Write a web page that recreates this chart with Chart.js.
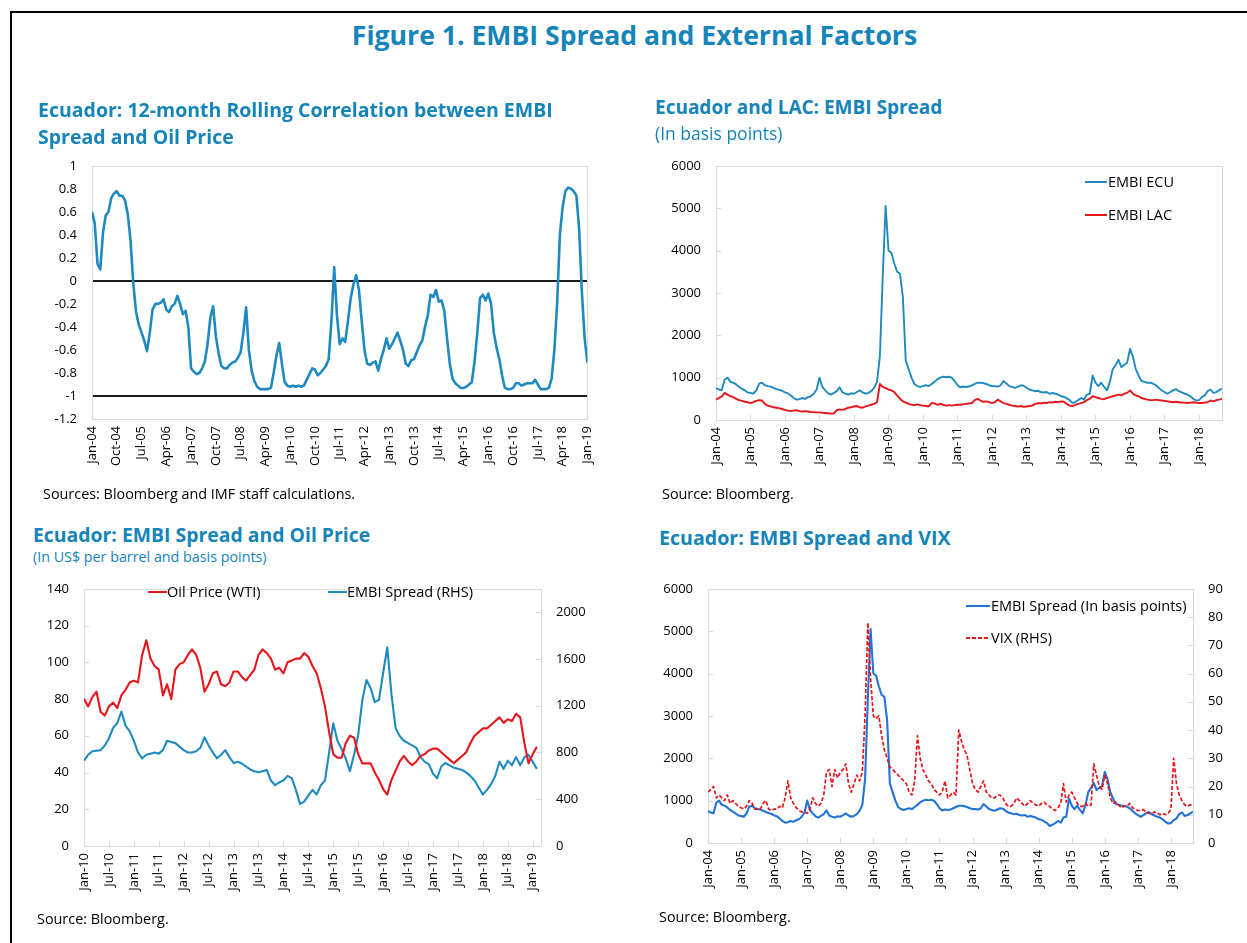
<!DOCTYPE html>
<html><head><meta charset="utf-8">
<script src="https://cdn.jsdelivr.net/npm/chart.js@4.4.1/dist/chart.umd.min.js"></script>
<style>
html,body{margin:0;padding:0;background:#fff;width:1247px;height:943px;overflow:hidden;font-family:"Open Sans",sans-serif;}
.frame{position:absolute;left:10px;top:11px;width:1300px;height:1000px;border-left:2px solid #000;border-top:2px solid #000;}
.t{position:absolute;white-space:nowrap;color:#1584b9;z-index:2;}
.b{font-weight:700;}
.src{position:absolute;white-space:nowrap;color:#000;font-size:14.4px;line-height:18px;z-index:2;}
.cv{position:absolute;}
.lg{position:absolute;white-space:nowrap;color:#000;font-size:14.5px;line-height:18px;z-index:3;}
.ln{position:absolute;height:2px;z-index:3;}
</style></head>
<body>
<div class="frame"></div>
<div class="t b" style="left:11px;width:1247px;text-align:center;top:19px;font-size:26.6px;line-height:32px;">Figure 1. EMBI Spread and External Factors</div>

<div class="t b" style="left:38px;top:96px;font-size:19.5px;line-height:27px;">Ecuador: 12-month Rolling Correlation between EMBI<br>Spread and Oil Price</div>
<div class="src" style="left:43px;top:485px;">Sources: Bloomberg and IMF staff calculations.</div>

<div class="t b" style="left:655px;top:94px;font-size:19px;line-height:27px;">Ecuador and LAC: EMBI Spread</div>
<div class="t" style="left:655px;top:122px;font-size:17.5px;line-height:22px;">(In basis points)</div>
<div class="src" style="left:662px;top:485px;">Source: Bloomberg.</div>

<div class="t b" style="left:33px;top:521px;font-size:19.4px;line-height:27px;">Ecuador: EMBI Spread and Oil Price</div>
<div class="t" style="left:33px;top:548px;font-size:14.3px;line-height:18px;">(In US$ per barrel and basis points)</div>
<div class="src" style="left:37px;top:910px;">Source: Bloomberg.</div>

<div class="t b" style="left:659px;top:524px;font-size:19.6px;line-height:27px;">Ecuador: EMBI Spread and VIX</div>
<div class="src" style="left:659px;top:908px;">Source: Bloomberg.</div>

<canvas id="c1" class="cv" width="590" height="352" style="left:20px;top:143px;"></canvas>
<canvas id="c2" class="cv" width="600" height="352" style="left:640px;top:143px;"></canvas>
<canvas id="c3" class="cv" width="600" height="345" style="left:20px;top:566px;"></canvas>
<canvas id="c4" class="cv" width="600" height="345" style="left:640px;top:566px;"></canvas>

<!-- legends -->
<div class="ln" style="left:1085px;top:181px;width:22px;background:#1f8ac0;"></div>
<div class="lg" style="left:1108px;top:173px;">EMBI ECU</div>
<div class="ln" style="left:1085px;top:214px;width:22px;background:#e8141c;"></div>
<div class="lg" style="left:1108px;top:206px;">EMBI LAC</div>

<div class="ln" style="left:148px;top:591px;width:19px;background:#e8141c;"></div>
<div class="lg" style="left:167px;top:583px;">Oil Price (WTI)</div>
<div class="ln" style="left:328px;top:591px;width:19px;background:#1f8ac0;"></div>
<div class="lg" style="left:347px;top:583px;">EMBI Spread (RHS)</div>

<div class="ln" style="left:966px;top:605px;width:24px;background:#2273d6;"></div>
<div class="lg" style="left:991px;top:597px;">EMBI Spread (In basis points)</div>
<div class="ln" style="left:966px;top:637px;width:24px;background:repeating-linear-gradient(90deg,#e8141c 0 4px,transparent 4px 6px);"></div>
<div class="lg" style="left:991px;top:629px;">VIX (RHS)</div>

<script>
// ---------- DATA ----------
const MONTHS = ['Jan','Feb','Mar','Apr','May','Jun','Jul','Aug','Sep','Oct','Nov','Dec'];

// Chart 1: 12-month rolling correlation, monthly from Jan-2004
const corrStart = 2004;
const corr = [0.60,0.50,0.15,0.10,0.42,0.57,0.60,0.72,0.76,0.78,0.74,0.74,
 0.70,0.58,0.35,-0.02,-0.27,-0.38,-0.45,-0.52,-0.61,-0.45,-0.25,-0.20,
 -0.20,-0.19,-0.16,-0.25,-0.27,-0.22,-0.20,-0.13,-0.20,-0.29,-0.26,-0.40,
 -0.76,-0.79,-0.81,-0.80,-0.76,-0.70,-0.55,-0.32,-0.22,-0.48,-0.63,-0.74,
 -0.76,-0.76,-0.73,-0.71,-0.70,-0.67,-0.62,-0.45,-0.23,-0.60,-0.78,-0.87,
 -0.92,-0.94,-0.94,-0.94,-0.94,-0.93,-0.80,-0.65,-0.54,-0.72,-0.88,-0.91,
 -0.92,-0.91,-0.92,-0.91,-0.92,-0.91,-0.86,-0.81,-0.76,-0.77,-0.82,-0.80,
 -0.77,-0.74,-0.68,-0.35,0.12,-0.30,-0.55,-0.50,-0.53,-0.35,-0.15,-0.03,
 0.05,-0.08,-0.35,-0.60,-0.72,-0.73,-0.71,-0.70,-0.78,-0.68,-0.60,-0.50,
 -0.59,-0.55,-0.50,-0.45,-0.52,-0.60,-0.72,-0.74,-0.69,-0.68,-0.62,-0.56,
 -0.52,-0.40,-0.30,-0.12,-0.14,-0.08,-0.18,-0.17,-0.26,-0.50,-0.72,-0.85,
 -0.89,-0.91,-0.93,-0.93,-0.92,-0.90,-0.88,-0.70,-0.45,-0.15,-0.12,-0.17,
 -0.11,-0.20,-0.45,-0.58,-0.68,-0.82,-0.93,-0.94,-0.94,-0.93,-0.89,-0.89,
 -0.91,-0.90,-0.89,-0.89,-0.89,-0.86,-0.90,-0.94,-0.94,-0.94,-0.93,-0.85,
 -0.60,-0.20,0.40,0.64,0.78,0.81,0.80,0.78,0.74,0.45,-0.10,-0.50,
 -0.71];
const corrXLabels = ['Jan-04','Oct-04','Jul-05','Apr-06','Jan-07','Oct-07','Jul-08','Apr-09','Jan-10','Oct-10','Jul-11','Apr-12','Jan-13','Oct-13','Jul-14','Apr-15','Jan-16','Oct-16','Jul-17','Apr-18','Jan-19'];
const corrYTicks = [-1.2,-1,-0.8,-0.6,-0.4,-0.2,0,0.2,0.4,0.6,0.8,1];
const corrRefLines = [0,-1];

// Chart 2 & 4: EMBI spreads, monthly from Jan-2004 (basis points)
const embiStart = 2004;
const embiEcu = [750,720,700,950,1000,900,880,840,780,740,700,650,
 640,620,700,860,880,820,800,790,760,730,710,690,
 650,630,580,520,480,490,520,500,540,560,620,720,
 1000,780,700,630,600,640,680,770,650,620,600,630,
 620,660,700,650,620,640,680,760,900,1500,3400,5050,
 4000,3950,3700,3500,3450,2900,1400,1200,1000,850,800,780,
 800,820,800,850,900,960,1000,1020,1010,1020,1000,920,
 820,770,790,780,790,820,850,880,880,870,850,820,
 800,800,790,820,920,860,800,780,760,790,820,810,
 760,720,700,680,690,660,650,660,620,640,620,600,
 560,550,510,470,400,430,470,520,480,600,620,1050,
 880,800,880,780,700,900,1200,1300,1420,1250,1300,1350,
 1680,1500,1200,1050,920,900,880,880,860,820,760,700,
 660,620,660,700,730,680,650,620,600,560,500,460,
 470,540,580,680,720,640,660,700,740];
const embiLac = [480,520,550,640,600,560,540,500,470,450,430,420,
 400,420,450,470,460,380,340,320,300,290,280,260,
 240,220,210,220,230,210,200,210,200,190,185,180,
 180,170,165,160,150,155,230,250,240,260,290,300,
 320,330,300,290,320,340,360,380,420,850,780,750,
 720,700,660,580,500,440,410,380,360,350,370,350,
 340,330,320,400,390,360,380,360,340,350,340,350,
 360,360,370,380,390,400,470,500,460,430,440,420,
 400,420,480,440,400,380,360,340,330,320,330,310,
 320,330,340,380,400,390,410,400,420,410,430,420,
 440,430,380,340,330,360,380,400,420,470,500,560,
 540,520,500,490,520,540,560,580,600,580,620,640,
 700,620,580,560,520,500,480,470,470,480,470,460,
 450,440,430,420,430,420,410,410,400,410,420,410,
 400,400,410,420,460,440,470,480,500];
const vix = [18,19,20,16,17,16,15,17,14,15,14,13,
 12.5,12,13,15,14,12,12,12,14,15,12,11.5,
 12,12,13,12.5,16,22,16,14,12.5,11.5,11,11,
 10.5,12,16,14,13,14,17,25,26,20,26,23,
 25,26,28,21,18,21,24,22,25,45,78,58,
 45,44,45,38,33,30,27,26,25,24,23,22,
 21,18,17,22,38,30,26,24,22,21,19,18,
 17,18,22,16,17,18,17,40,36,33,31,26,
 21,19,18,20,22,18,17,16,16,17,17,16,
 14,13,13,14,16,15,14,13,14,15,14,13.5,
 13,14,14.5,13.5,13,12,11.5,12.5,14,21,14.5,17,
 18,16,14,13,13,14,13,13.5,28,24,20,19,
 24,21,16,14,14.5,13.5,12.5,13,13,14,12.5,12,
 11.5,11.5,11.8,11,10.5,10.3,11,10.5,10,10.5,10,10.5,
 12,30,21,17,15,13.5,13,13.5,13];
const embiXLabels = ['Jan-04','Jan-05','Jan-06','Jan-07','Jan-08','Jan-09','Jan-10','Jan-11','Jan-12','Jan-13','Jan-14','Jan-15','Jan-16','Jan-17','Jan-18'];
const embiYTicks = [0,1000,2000,3000,4000,5000,6000];
const vixYTicks = [0,10,20,30,40,50,60,70,80,90];

// Chart 3: oil price (US$/bbl) and EMBI spread (bp), monthly from Jan-2010
const oilStart = 2010;
const oil = [80,76,81,84,73,71,76,78,75,82,85,89,
 90,89,104,112,102,98,96,82,88,80,96,99,
 100,104,107,104,97,84,88,94,95,88,87,89,
 95,95,92,90,93,96,104,107,105,102,96,97,
 94,100,101,102,102,105,103,98,94,86,76,62,
 50,48,48,56,60,59,50,45,45,45,40,36,
 31,28,36,41,46,49,46,44,46,49,50,52,
 53,53,51,49,47,45,47,49,51,56,60,62,
 64,64,66,68,70,67,69,68,72,70,56,45,
 50,54];
const embiOil = [730,780,810,815,820,860,920,1010,1050,1150,1030,980,
 900,800,750,780,790,800,790,820,900,890,880,850,
 820,800,800,810,840,930,860,800,750,780,820,760,
 710,720,705,680,655,640,630,640,650,560,520,545,
 560,600,580,480,360,380,430,480,440,520,560,800,
 1050,900,830,750,640,780,950,1250,1420,1350,1230,1250,
 1480,1700,1300,1010,940,900,880,860,840,760,720,700,
 620,580,680,710,690,670,660,650,630,600,560,500,
 440,480,530,600,720,660,730,690,760,690,760,780,
 720,660];
const oilXLabels = ['Jan-10','Jul-10','Jan-11','Jul-11','Jan-12','Jul-12','Jan-13','Jul-13','Jan-14','Jul-14','Jan-15','Jul-15','Jan-16','Jul-16','Jan-17','Jul-17','Jan-18','Jul-18','Jan-19'];
const oilYTicks = [0,20,40,60,80,100,120,140];
const oilY2Ticks = [0,400,800,1200,1600,2000];

// ---------- HELPERS ----------
const TEAL = '#1f8ac0', RED = '#e8141c', BLUE = '#2273d6', GRID = '#d9d9d9';
Chart.defaults.font.family = '"Open Sans", sans-serif';
Chart.defaults.font.size = 13;
Chart.defaults.color = '#000';

function labelPos(l){ const p = l.split('-'); return 2000 + Number(p[1]) + MONTHS.indexOf(p[0]) / 12; }
function pts(start, arr){ return arr.map((v, i) => ({x: start + i / 12, y: v})); }

// light-grey plot frame plus short inside tick marks (Excel style)
function framePlugin(innerTicks){
  return {
    id: 'plotFrame',
    beforeDatasetsDraw(c){
      const a = c.chartArea, ctx = c.ctx;
      ctx.save(); ctx.strokeStyle = GRID; ctx.lineWidth = 1;
      ctx.strokeRect(Math.round(a.left) + 0.5, Math.round(a.top) + 0.5, Math.round(a.right - a.left), Math.round(a.bottom - a.top));
      if (innerTicks) {
        ctx.beginPath();
        Object.values(c.scales).forEach(s => {
          s.ticks.forEach(t => {
            const p = Math.round(s.getPixelForValue(t.value)) + 0.5;
            if (s.axis === 'x') { ctx.moveTo(p, a.bottom); ctx.lineTo(p, a.bottom - 5); }
            else if (s.position === 'left') { ctx.moveTo(a.left, p); ctx.lineTo(a.left + 5, p); }
            else { ctx.moveTo(a.right, p); ctx.lineTo(a.right - 5, p); }
          });
        });
        ctx.stroke();
      }
      ctx.restore();
    }
  };
}

function xScale(min, max, labels, h){
  const vals = labels.map(labelPos);
  return {
    type: 'linear', min: min, max: max,
    afterBuildTicks: s => { s.ticks = vals.map(v => ({value: v})); },
    afterFit: s => { s.height = h; },
    ticks: {autoSkip: false, maxRotation: 90, minRotation: 90, padding: 7, font: {size: 13}, callback: (v, i) => labels[i]},
    grid: {display: false, drawTicks: false},
    border: {display: false}
  };
}
function yScale(pos, min, max, tickVals, w, fmt, grid){
  return {
    type: 'linear', position: pos, min: min, max: max,
    afterBuildTicks: s => { s.ticks = tickVals.map(v => ({value: v})); },
    afterFit: s => { s.width = w; },
    ticks: {padding: 15, font: {size: 13}, callback: fmt || (v => String(v))},
    grid: grid || {display: false, drawTicks: false},
    border: {display: false}
  };
}
function baseOpts(padding, scales){
  return {
    responsive: false, animation: false, events: [],
    layout: {padding: padding},
    plugins: {legend: {display: false}, tooltip: {enabled: false}},
    elements: {point: {radius: 0}, line: {tension: 0, borderJoinStyle: 'round'}},
    scales: scales
  };
}

// ---------- CHART 1 ----------
new Chart(document.getElementById('c1'), {
  type: 'line',
  data: {datasets: [{data: pts(corrStart, corr), borderColor: TEAL, borderWidth: 2.6}]},
  options: baseOpts({top: 14, right: 17, left: 0, bottom: 0}, {
    x: xScale(2004, 2019, corrXLabels, 76),
    y: yScale('left', -1.2, 1, corrYTicks, 72, v => String(Number(v.toFixed(1))),
      {display: true, drawTicks: false, lineWidth: 2,
       color: ctx => corrRefLines.some(r => Math.abs(ctx.tick.value - r) < 1e-9) ? '#1a1a1a' : 'rgba(0,0,0,0)'})
  }),
  plugins: [framePlugin(false)]
});

// ---------- CHART 2 ----------
new Chart(document.getElementById('c2'), {
  type: 'line',
  data: {datasets: [
    {data: pts(embiStart, embiLac), borderColor: RED, borderWidth: 1.9},
    {data: pts(embiStart, embiEcu), borderColor: TEAL, borderWidth: 1.9}
  ]},
  options: baseOpts({top: 14, right: 18, left: 0, bottom: 0}, {
    x: xScale(2004, 2004 + 176 / 12, embiXLabels, 75),
    y: yScale('left', 0, 6000, embiYTicks, 76)
  }),
  plugins: [framePlugin(true)]
});

// ---------- CHART 3 ----------
new Chart(document.getElementById('c3'), {
  type: 'line',
  data: {datasets: [
    {data: pts(oilStart, oil), borderColor: RED, borderWidth: 2.1, yAxisID: 'y'},
    {data: pts(oilStart, embiOil), borderColor: TEAL, borderWidth: 2.1, yAxisID: 'y2'}
  ]},
  options: baseOpts({top: 14, right: 0, left: 0, bottom: 0}, {
    x: xScale(2010, 2010 + 110 / 12, oilXLabels, 65),
    y: yScale('left', 0, 140, oilYTicks, 64),
    y2: yScale('right', 0, 2200, oilY2Ticks, 79)
  }),
  plugins: [framePlugin(true)]
});

// ---------- CHART 4 ----------
new Chart(document.getElementById('c4'), {
  type: 'line',
  data: {datasets: [
    {data: pts(embiStart, vix), borderColor: RED, borderWidth: 1.7, borderDash: [4, 2], yAxisID: 'y2'},
    {data: pts(embiStart, embiEcu), borderColor: BLUE, borderWidth: 2.1, yAxisID: 'y'}
  ]},
  options: baseOpts({top: 14, right: 0, left: 0, bottom: 0}, {
    x: xScale(2004, 2004 + 176 / 12, embiXLabels, 68),
    y: yScale('left', 0, 6000, embiYTicks, 68),
    y2: yScale('right', 0, 90, vixYTicks, 47)
  }),
  plugins: [framePlugin(true)]
});
</script>
</body></html>
